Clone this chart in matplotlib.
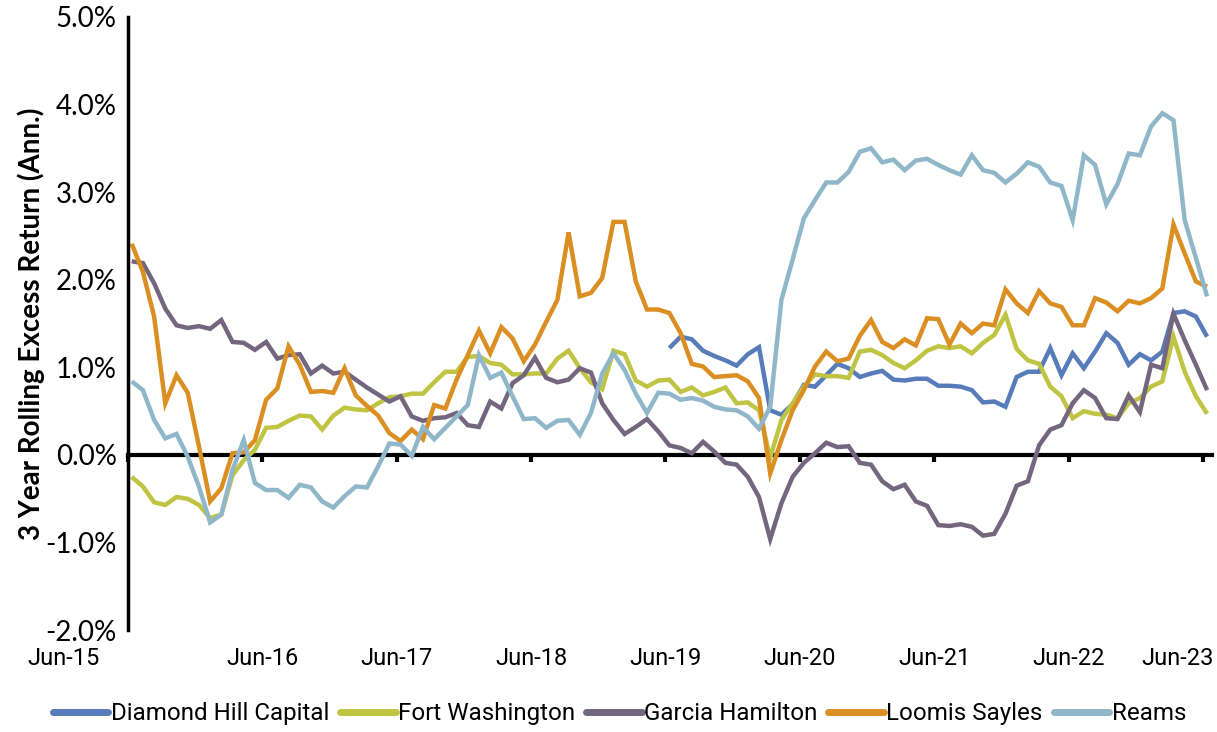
import numpy as np
import matplotlib
matplotlib.use("Agg")
import matplotlib.pyplot as plt
from matplotlib.transforms import ScaledTranslation

# monthly 3-year rolling excess return (%), Jun-15 .. Jun-23
tick_labels = ["Jun-15", "Jun-16", "Jun-17", "Jun-18", "Jun-19",
               "Jun-20", "Jun-21", "Jun-22", "Jun-23"]

diamond_hill = [np.nan] * 48 + [
    1.22, 1.35, 1.32, 1.19, 1.13, 1.08, 1.02, 1.15, 1.23, 0.51, 0.46, 0.58, 0.80, 0.78, 0.91, 1.04,
    0.99, 0.89, 0.93, 0.96, 0.86, 0.85, 0.87, 0.87, 0.79, 0.79, 0.78, 0.74, 0.60, 0.61, 0.55, 0.89,
    0.95, 0.95, 1.22, 0.91, 1.16, 0.99, 1.18, 1.39, 1.28, 1.03, 1.15, 1.08, 1.18, 1.62, 1.64, 1.58, 1.35]

fort_washington = [
    -0.25, -0.36, -0.54, -0.57, -0.48, -0.50, -0.57, -0.72, -0.68, -0.23, -0.06, 0.06, 0.31, 0.32, 0.39, 0.45,
    0.44, 0.29, 0.45, 0.54, 0.52, 0.51, 0.59, 0.66, 0.67, 0.70, 0.70, 0.83, 0.95, 0.95, 1.12, 1.13,
    1.05, 1.03, 0.92, 0.92, 0.93, 0.93, 1.10, 1.19, 0.99, 0.83, 0.75, 1.19, 1.15, 0.85, 0.78, 0.85,
    0.86, 0.72, 0.77, 0.68, 0.72, 0.77, 0.59, 0.60, 0.51, -0.03, 0.40, 0.59, 0.78, 0.92, 0.90, 0.90,
    0.88, 1.18, 1.20, 1.14, 1.05, 0.99, 1.08, 1.19, 1.24, 1.22, 1.24, 1.16, 1.28, 1.37, 1.60, 1.21,
    1.08, 1.04, 0.78, 0.67, 0.42, 0.50, 0.47, 0.46, 0.42, 0.59, 0.65, 0.78, 0.84, 1.35, 0.95, 0.67, 0.47]

garcia_hamilton = [
    2.21, 2.19, 1.96, 1.67, 1.48, 1.45, 1.47, 1.44, 1.54, 1.29, 1.28, 1.20, 1.29, 1.10, 1.14, 1.15,
    0.93, 1.02, 0.93, 0.95, 0.86, 0.77, 0.69, 0.61, 0.67, 0.44, 0.39, 0.42, 0.43, 0.48, 0.34, 0.32,
    0.61, 0.53, 0.82, 0.91, 1.11, 0.88, 0.83, 0.86, 0.99, 0.94, 0.59, 0.40, 0.24, 0.32, 0.41, 0.27,
    0.11, 0.08, 0.02, 0.15, 0.04, -0.09, -0.11, -0.25, -0.48, -0.96, -0.55, -0.25, -0.09, 0.02, 0.14, 0.09,
    0.10, -0.09, -0.11, -0.30, -0.39, -0.34, -0.53, -0.58, -0.80, -0.81, -0.79, -0.82, -0.92, -0.90, -0.67, -0.35,
    -0.30, 0.11, 0.29, 0.34, 0.59, 0.74, 0.65, 0.42, 0.41, 0.68, 0.49, 1.03, 0.99, 1.61, 1.31, 1.03, 0.74]

loomis_sayles = [
    2.41, 2.09, 1.58, 0.59, 0.91, 0.71, 0.10, -0.53, -0.38, 0.02, 0.03, 0.17, 0.63, 0.76, 1.24, 1.03,
    0.72, 0.73, 0.71, 0.99, 0.68, 0.56, 0.45, 0.25, 0.16, 0.29, 0.18, 0.57, 0.53, 0.86, 1.14, 1.42,
    1.16, 1.46, 1.33, 1.07, 1.26, 1.52, 1.77, 2.54, 1.81, 1.85, 2.02, 2.66, 2.66, 1.98, 1.66, 1.66,
    1.62, 1.39, 1.04, 1.01, 0.89, 0.90, 0.91, 0.84, 0.65, -0.21, 0.17, 0.51, 0.74, 1.01, 1.18, 1.07,
    1.10, 1.36, 1.54, 1.29, 1.22, 1.32, 1.25, 1.56, 1.55, 1.26, 1.50, 1.39, 1.50, 1.48, 1.89, 1.73,
    1.62, 1.87, 1.73, 1.69, 1.48, 1.48, 1.79, 1.74, 1.64, 1.76, 1.73, 1.79, 1.90, 2.63, 2.30, 1.98, 1.92]

reams = [
    0.84, 0.74, 0.40, 0.19, 0.24, -0.02, -0.36, -0.77, -0.68, -0.17, 0.17, -0.32, -0.40, -0.40, -0.49, -0.34,
    -0.37, -0.53, -0.60, -0.47, -0.36, -0.37, -0.13, 0.13, 0.12, -0.01, 0.32, 0.18, 0.31, 0.44, 0.57, 1.14,
    0.88, 0.94, 0.67, 0.41, 0.42, 0.31, 0.39, 0.40, 0.23, 0.48, 0.93, 1.16, 0.97, 0.70, 0.48, 0.71,
    0.70, 0.63, 0.65, 0.62, 0.55, 0.52, 0.51, 0.44, 0.30, 0.55, 1.77, 2.23, 2.70, 2.91, 3.11, 3.11,
    3.23, 3.46, 3.50, 3.34, 3.37, 3.25, 3.36, 3.38, 3.31, 3.25, 3.20, 3.42, 3.25, 3.22, 3.11, 3.21,
    3.34, 3.29, 3.11, 3.07, 2.68, 3.42, 3.31, 2.86, 3.09, 3.44, 3.42, 3.75, 3.90, 3.82, 2.68, 2.25, 1.81]

series = [
    ("Diamond Hill Capital", diamond_hill, "#587cb9"),
    ("Fort Washington", fort_washington, "#bfc542"),
    ("Garcia Hamilton", garcia_hamilton, "#75667f"),
    ("Loomis Sayles", loomis_sayles, "#db8f23"),
    ("Reams", reams, "#90b6ca"),
]

months = np.arange(len(reams)) + 0.35

fig = plt.figure(figsize=(12.17, 7.32), dpi=100)
ax = fig.add_axes([0.105, 0.139, 0.891, 0.838])

for name, vals, col in series:
    ax.plot(months, np.array(vals, dtype=float), color=col, lw=3.2, label=name,
            solid_joinstyle="miter", solid_capstyle="butt")

ax.set_xlim(0, 96.8)
ax.set_ylim(-2, 5)
ax.set_yticks(np.arange(-2, 5.01, 1))
ax.set_yticklabels([f"{v:.1f}%" for v in np.arange(-2, 5.01, 1)],
                   fontsize=20, family="Lato")
ax.tick_params(axis="y", length=0, pad=8)

ax.set_xticks(np.arange(0, 97, 12))
ax.set_xticklabels(tick_labels, fontsize=17, family="Roboto")
ax.tick_params(axis="x", length=0, pad=12)
# the end labels are pushed inwards, as in the source chart
xl = ax.get_xticklabels()
xl[0].set_transform(xl[0].get_transform() + ScaledTranslation(-0.64, 0, fig.dpi_scale_trans))
xl[-1].set_transform(xl[-1].get_transform() + ScaledTranslation(-0.26, 0, fig.dpi_scale_trans))

for s in ["top", "right", "bottom"]:
    ax.spines[s].set_visible(False)
ax.spines["left"].set_linewidth(2.5)

# zero line with its own tick marks
zero_ax = ax.secondary_xaxis(2 / 7)
zero_ax.set_xticks(np.arange(0, 97, 12))
zero_ax.set_xticklabels([])
zero_ax.spines["bottom"].set_linewidth(3)
zero_ax.tick_params(axis="x", direction="out", length=5, width=3)

ax.set_ylabel("3 Year Rolling Excess Return (Ann.)", fontsize=20,
              family="Lato", fontweight="bold", labelpad=0)

leg = fig.legend(loc="center", bbox_to_anchor=(0.509, 0.025), ncol=5,
                 frameon=False, prop={"family": "Roboto", "size": 17.4},
                 handlelength=2.3, handletextpad=0.1, columnspacing=0.45)
for h in leg.get_lines():
    h.set_linewidth(5)
    h.set_solid_capstyle("round")

fig.savefig("out.png", dpi=100)
